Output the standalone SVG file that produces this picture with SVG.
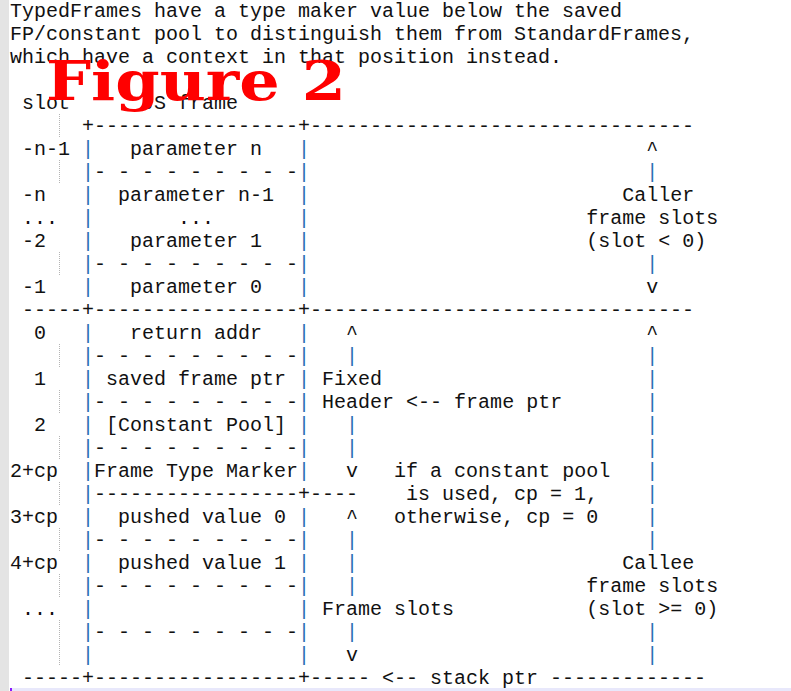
<svg xmlns="http://www.w3.org/2000/svg" width="791" height="691" viewBox="0 0 791 691">
<style>
.t{font-family:"Liberation Mono","Courier New",monospace;font-size:20px;fill:#111;white-space:pre}
.p{fill:#2a6fb5}
.g{stroke:#b4b4b4;stroke-width:1;stroke-dasharray:1 1}
.fig{font-family:"DejaVu Serif","Liberation Serif",serif;font-weight:bold;font-size:55px;fill:#ff0000}
</style>
<rect x="0" y="0" width="791" height="691" fill="#ffffff"/>
<rect x="0" y="0" width="9" height="691" fill="#e4e4e4"/>
<rect x="10" y="688" width="781" height="3" fill="#e8e8fb"/>
<rect x="10" y="688" width="2" height="3" fill="#8a1cff"/>
<g id="guides">
<line class="g" x1="59.5" y1="114" x2="59.5" y2="137"/>
<line class="g" x1="59.5" y1="160" x2="59.5" y2="183"/>
<line class="g" x1="59.5" y1="252" x2="59.5" y2="275"/>
<line class="g" x1="59.5" y1="344" x2="59.5" y2="367"/>
<line class="g" x1="59.5" y1="390" x2="59.5" y2="413"/>
<line class="g" x1="59.5" y1="436" x2="59.5" y2="459"/>
<line class="g" x1="59.5" y1="482" x2="59.5" y2="505"/>
<line class="g" x1="59.5" y1="528" x2="59.5" y2="551"/>
<line class="g" x1="59.5" y1="574" x2="59.5" y2="597"/>
<line class="g" x1="59.5" y1="620" x2="59.5" y2="666"/>
</g>
<g id="intro">
<text class="t" xml:space="preserve" x="10" y="17">TypedFrames have a type maker value below the saved</text>
<text class="t" xml:space="preserve" x="10" y="40">FP/constant pool to distinguish them from StandardFrames,</text>
<text class="t" xml:space="preserve" x="10" y="63">which have a context in that position instead.</text>
</g>
<g id="frame">
<text class="t" xml:space="preserve" x="10" y="109"> slot      JS frame</text>
<text class="t" xml:space="preserve" x="10" y="132">      +-----------------+--------------------------------</text>
<text class="t" xml:space="preserve" x="10" y="155"> -n-1 <tspan class="p">|</tspan>   parameter n   <tspan class="p">|</tspan>                            ^</text>
<text class="t" xml:space="preserve" x="10" y="178">      <tspan class="p">|</tspan>- - - - - - - - -<tspan class="p">|</tspan>                            <tspan class="p">|</tspan></text>
<text class="t" xml:space="preserve" x="10" y="201"> -n   <tspan class="p">|</tspan>  parameter n-1  <tspan class="p">|</tspan>                          Caller</text>
<text class="t" xml:space="preserve" x="10" y="224"> ...  <tspan class="p">|</tspan>       ...       <tspan class="p">|</tspan>                       frame slots</text>
<text class="t" xml:space="preserve" x="10" y="247"> -2   <tspan class="p">|</tspan>   parameter 1   <tspan class="p">|</tspan>                       (slot &lt; 0)</text>
<text class="t" xml:space="preserve" x="10" y="270">      <tspan class="p">|</tspan>- - - - - - - - -<tspan class="p">|</tspan>                            <tspan class="p">|</tspan></text>
<text class="t" xml:space="preserve" x="10" y="293"> -1   <tspan class="p">|</tspan>   parameter 0   <tspan class="p">|</tspan>                            v</text>
<text class="t" xml:space="preserve" x="10" y="316"> -----+-----------------+--------------------------------</text>
<text class="t" xml:space="preserve" x="10" y="339">  0   <tspan class="p">|</tspan>   return addr   <tspan class="p">|</tspan>   ^                        ^</text>
<text class="t" xml:space="preserve" x="10" y="362">      <tspan class="p">|</tspan>- - - - - - - - -<tspan class="p">|</tspan>   <tspan class="p">|</tspan>                        <tspan class="p">|</tspan></text>
<text class="t" xml:space="preserve" x="10" y="385">  1   <tspan class="p">|</tspan> saved frame ptr <tspan class="p">|</tspan> Fixed                      <tspan class="p">|</tspan></text>
<text class="t" xml:space="preserve" x="10" y="408">      <tspan class="p">|</tspan>- - - - - - - - -<tspan class="p">|</tspan> Header &lt;-- frame ptr       <tspan class="p">|</tspan></text>
<text class="t" xml:space="preserve" x="10" y="431">  2   <tspan class="p">|</tspan> [Constant Pool] <tspan class="p">|</tspan>   <tspan class="p">|</tspan>                        <tspan class="p">|</tspan></text>
<text class="t" xml:space="preserve" x="10" y="454">      <tspan class="p">|</tspan>- - - - - - - - -<tspan class="p">|</tspan>   <tspan class="p">|</tspan>                        <tspan class="p">|</tspan></text>
<text class="t" xml:space="preserve" x="10" y="477">2+cp  <tspan class="p">|</tspan>Frame Type Marker<tspan class="p">|</tspan>   v   if a constant pool   <tspan class="p">|</tspan></text>
<text class="t" xml:space="preserve" x="10" y="500">      <tspan class="p">|</tspan>-----------------+----    is used, cp = 1,    <tspan class="p">|</tspan></text>
<text class="t" xml:space="preserve" x="10" y="523">3+cp  <tspan class="p">|</tspan>  pushed value 0 <tspan class="p">|</tspan>   ^   otherwise, cp = 0    <tspan class="p">|</tspan></text>
<text class="t" xml:space="preserve" x="10" y="546">      <tspan class="p">|</tspan>- - - - - - - - -<tspan class="p">|</tspan>   <tspan class="p">|</tspan>                        <tspan class="p">|</tspan></text>
<text class="t" xml:space="preserve" x="10" y="569">4+cp  <tspan class="p">|</tspan>  pushed value 1 <tspan class="p">|</tspan>   <tspan class="p">|</tspan>                      Callee</text>
<text class="t" xml:space="preserve" x="10" y="592">      <tspan class="p">|</tspan>- - - - - - - - -<tspan class="p">|</tspan>   <tspan class="p">|</tspan>                   frame slots</text>
<text class="t" xml:space="preserve" x="10" y="615"> ...  <tspan class="p">|</tspan>                 <tspan class="p">|</tspan> Frame slots           (slot &gt;= 0)</text>
<text class="t" xml:space="preserve" x="10" y="638">      <tspan class="p">|</tspan>- - - - - - - - -<tspan class="p">|</tspan>   <tspan class="p">|</tspan>                        <tspan class="p">|</tspan></text>
<text class="t" xml:space="preserve" x="10" y="661">      <tspan class="p">|</tspan>                 <tspan class="p">|</tspan>   v                        <tspan class="p">|</tspan></text>
<text class="t" xml:space="preserve" x="10" y="684"> -----+-----------------+----- &lt;-- stack ptr -------------</text>
</g>
<g id="title">
<text class="fig" x="46" y="100" textLength="300" lengthAdjust="spacingAndGlyphs">Figure 2</text>
</g>
</svg>
